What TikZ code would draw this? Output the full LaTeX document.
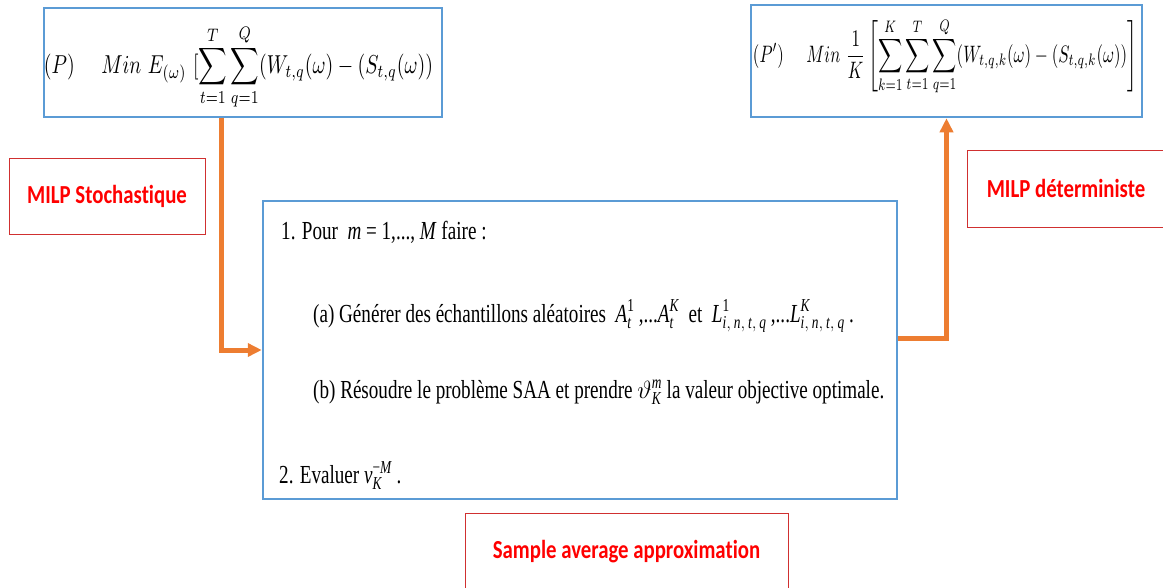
\documentclass[tikz,border=0pt]{standalone}
\usepackage{amsmath}
\usepackage{fontspec}
\newfontfamily\cond[FakeStretch=0.735]{Liberation Serif}
\newfontfamily\lab[FakeStretch=0.8,Ligatures=NoCommon]{Carlito}
\usetikzlibrary{arrows.meta}
\definecolor{boxblue}{HTML}{5B9BD5}
\definecolor{arrorange}{HTML}{ED7D31}
\definecolor{labred}{HTML}{FF0000}
\definecolor{labframe}{HTML}{D03030}
\newcommand{\ti}[1]{\textit{#1}}
\newcommand{\idx}{\ti{i},\,\ti{n},\,\ti{t},\,\ti{q}}
\tikzset{
  bluebox/.style={draw=boxblue, line width=2.5pt, inner sep=0pt},
  redbox/.style={draw=labframe, line width=0.9pt, text=labred, inner sep=0pt,
    font=\lab\bfseries\fontsize{26}{30}\selectfont},
  flow/.style={draw=arrorange, line width=5pt, -{Triangle[length=14pt,width=13pt]}},
  saatext/.style={font=\cond\fontsize{26}{30}\selectfont, anchor=base west, inner sep=0pt},
}
\begin{document}
\begin{tikzpicture}[x=1pt,y=-1pt]
\useasboundingbox (0,0) rectangle (1163,587);
\clip (0,0) rectangle (1163,587);
% top-left problem
\node[bluebox, minimum width=398pt, minimum height=109pt] (P) at (243,62.5) {};
\node[inner sep=0pt] (Pf) at (238.5,67.5) {\resizebox*{389pt}{85pt}{$\displaystyle (P)\quad\ Min\ E_{(\omega)}\ [\sum_{t=1}^{T}\sum_{q=1}^{Q}(W_{t,q}(\omega)-(S_{t,q}(\omega))$}};
% top-right problem
\node[bluebox, minimum width=391pt, minimum height=112pt] (Pp) at (946.5,61) {};
\node[inner sep=0pt] (Ppf) at (945,56.5) {\resizebox*{384pt}{78pt}{$\displaystyle (P')\quad\ Min\ \frac{1}{K}\left[\sum_{k=1}^{K}\sum_{t=1}^{T}\sum_{q=1}^{Q}(W_{t,q,k}(\omega)-(S_{t,q,k}(\omega))\right]$}};
% labels
\node[redbox, minimum width=196pt, minimum height=76pt] (stoch) at (107,196) {MILP Stochastique};
\node[redbox, minimum width=198pt, minimum height=77pt] (det) at (1066,188.5) {MILP déterministe};
\node[redbox, minimum width=323pt, minimum height=77pt] (saa) at (626.5,551.5) {Sample average approximation};
% main algorithm box
\node[bluebox, minimum width=634pt, minimum height=298pt] (main) at (580,350) {};
\node[saatext] (l1) at (281,239) {1. Pour\ \ \ti{m} = 1,..., \ti{M} faire :};
\node[saatext] (l2) at (313,322) {(a) Générer des échantillons aléatoires\ \ $\ti{A}_{\ti{t}}^{\textup{1}}$\,,...$\ti{A}_{\ti{t}}^{\ti{K}}$\ \ et\ \ $\ti{L}_{\idx}^{\textup{1}}$\,,...$\ti{L}_{\idx}^{\ti{K}}$\,.};
\node[saatext] (l3) at (313,398) {(b) Résoudre le problème SAA et prendre $\vartheta_{\ti{K}}^{\ti{m}}$ la valeur objective optimale.};
\node[saatext] (l4) at (279,483) {2. Evaluer $\ti{v}_{\ti{K}}^{\textup{−}\ti{M}}$ .};
% connectors
\draw[flow] ([xshift=-22pt]P.south) |- (main.west);
\draw[flow] ([yshift=12pt]main.east) -| (Pp.south);
\end{tikzpicture}
\end{document}
